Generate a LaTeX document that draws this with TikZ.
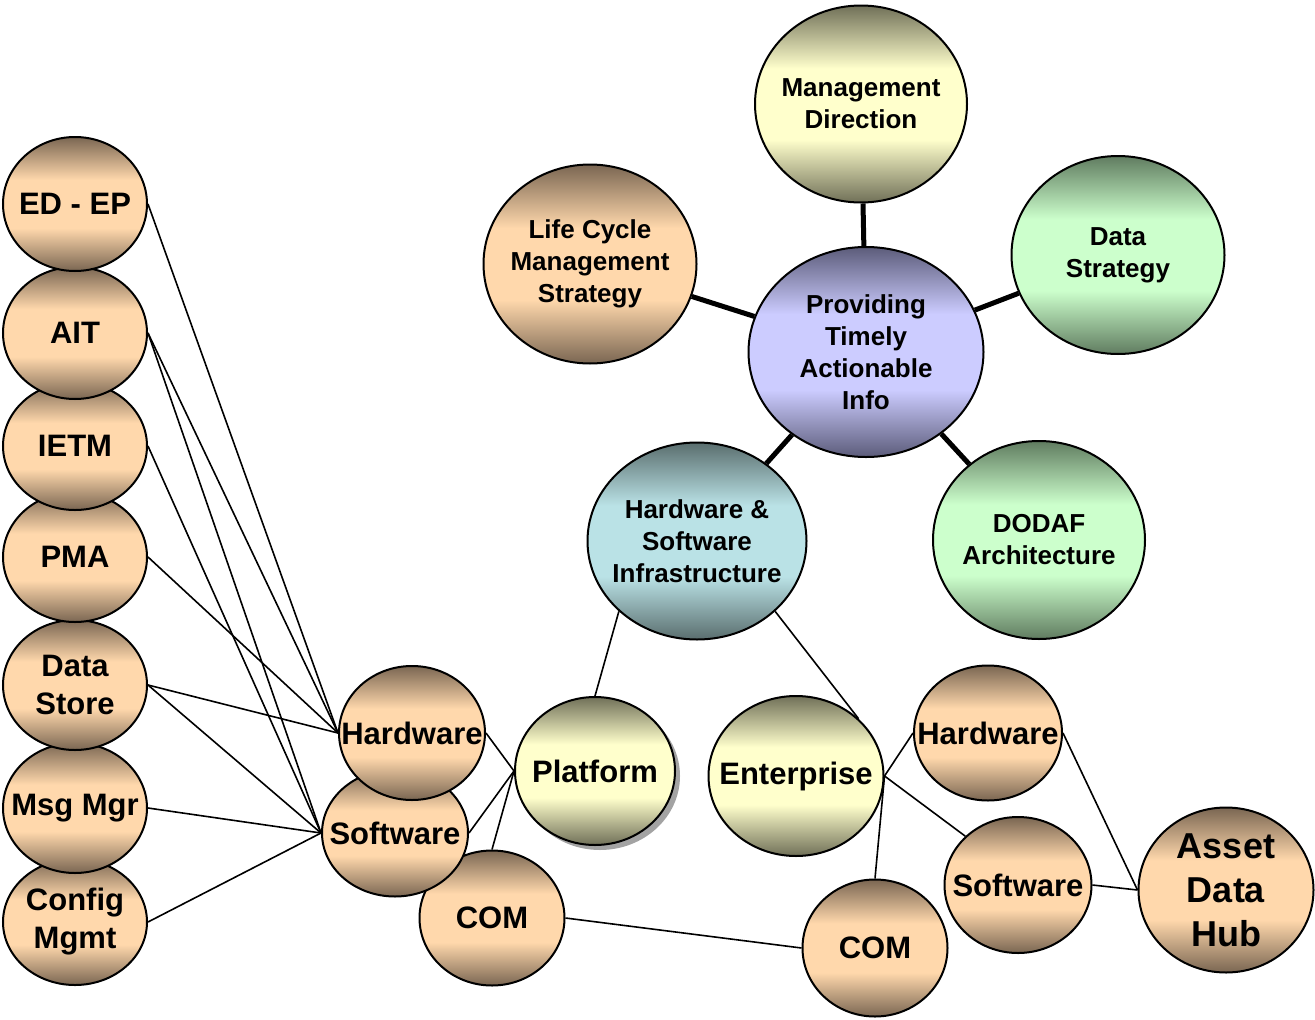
\documentclass[tikz,border=0pt]{standalone}
\usepackage{fontspec}
\setmainfont{Liberation Sans}
\usetikzlibrary{shapes.geometric,backgrounds,shadows}

\definecolor{tanD}{RGB}{122,102,82}
\definecolor{tanL}{RGB}{255,216,172}
\definecolor{yelD}{RGB}{112,112,88}
\definecolor{yelL}{RGB}{255,255,204}
\definecolor{bluD}{RGB}{92,92,122}
\definecolor{bluL}{RGB}{204,204,255}
\definecolor{tealD}{RGB}{90,110,110}
\definecolor{tealL}{RGB}{186,226,230}
\definecolor{grnD}{RGB}{96,124,96}
\definecolor{grnL}{RGB}{204,255,204}

\newcommand{\bubshading}[3]{%
	\pgfdeclareverticalshading{#1}{100bp}{color(0bp)=(#2); color(25bp)=(#2);
		color(41bp)=(#3); color(59bp)=(#3); color(75bp)=(#2); color(100bp)=(#2)}}
\bubshading{tanshade}{tanD}{tanL}
\bubshading{yelshade}{yelD}{yelL}
\bubshading{blushade}{bluD}{bluL}
\bubshading{tealshade}{tealD}{tealL}
\bubshading{grnshade}{grnD}{grnL}

\tikzset{
	bub/.style 2 args={ellipse, draw=black, line width=2pt, inner sep=0pt,
		minimum width=#1, minimum height=#2},
	tanb/.style={shade, shading=tanshade},
	yelb/.style={shade, shading=yelshade},
	blub/.style={shade, shading=blushade},
	tealb/.style={shade, shading=tealshade},
	grnb/.style={shade, shading=grnshade},
	lbl/.style={font=\bfseries\fontsize{31}{38}\selectfont, align=center, inner sep=0pt},
	lblS/.style={font=\bfseries\fontsize{26}{32}\selectfont, align=center, inner sep=0pt},
	lblL/.style={font=\bfseries\fontsize{36}{44}\selectfont, align=center, inner sep=0pt},
	hublink/.style={line width=5pt},
	link/.style={line width=1.6pt},
}

\begin{document}
\begin{tikzpicture}[x=1pt,y=-1pt]
	\useasboundingbox (0,0) rectangle (1315,1020);
	% left column
	\node[bub={144}{126},tanb,label={[lbl]center:{Config\\Mgmt}}] (config) at (75,922) {};
	\node[bub={144}{130},tanb,label={[lbl]center:Msg Mgr}] (msgmgr) at (75,808) {};
	\node[bub={144}{130},tanb,label={[lbl]center:{Data\\Store}}] (dstore) at (75,685) {};
	\node[bub={144}{130},tanb,label={[lbl]center:PMA}] (pma) at (75,557) {};
	\node[bub={144}{128},tanb,label={[lbl]center:IETM}] (ietm) at (75,446) {};
	\node[bub={144}{132},tanb,label={[lbl]center:AIT}] (ait) at (75,333) {};
	\node[bub={144}{134},tanb,label={[lbl]center:ED - EP}] (edep) at (75,204) {};
	%
	\node[bub={145}{135},tanb,label={[lbl]center:COM}] (comL) at (492,918) {};
	\node[bub={146}{127},tanb,label={[lbl]center:Software}] (swL) at (395,833) {};
	\node[bub={146}{134},tanb,label={[lbl]center:Hardware}] (hwL) at (412,733) {};
	\node[bub={160}{148},yelb,drop shadow={shadow xshift=5pt,shadow yshift=-5pt,fill=black!45,opacity=0.8},
		label={[lbl]center:Platform}] (platform) at (595,771) {};
	%
	\node[bub={175}{160},yelb,label={[lbl]center:Enterprise}] (enterprise) at (796,776) {};
	\node[bub={148}{135},tanb,label={[lbl]center:Hardware}] (hwR) at (988,733) {};
	\node[bub={147}{136},tanb,label={[lbl]center:Software}] (swR) at (1018,885) {};
	\node[bub={145}{137},tanb,label={[lbl]center:COM}] (comR) at (875,948) {};
	\node[bub={175}{165},tanb,label={[lblL]center:{Asset\\Data\\Hub}}] (hub) at (1226,890) {};
	% top cluster
	\node[bub={235}{210},blub,label={[lblS]center:{Providing\\Timely\\Actionable\\Info}}] (info) at (866,352) {};
	\node[bub={212}{197},yelb,label={[lblS]center:{Management\\Direction}}] (mgmt) at (861,104) {};
	\node[bub={213}{199},tanb,label={[lblS]center:{Life Cycle\\Management\\Strategy}}] (lifecyc) at (590,264) {};
	\node[bub={213}{198},grnb,label={[lblS]center:{Data\\Strategy}}] (datastrat) at (1118,255) {};
	\node[bub={212}{198},grnb,label={[lblS]center:{DODAF\\Architecture}}] (dodaf) at (1039,540) {};
	\node[bub={219}{197},tealb,label={[lblS]center:{Hardware \&\\Software\\Infrastructure}}] (infra) at (697,541) {};
	%
	\begin{scope}[on background layer]
		\foreach \sat in {mgmt,lifecyc,datastrat,dodaf,infra}
			\draw[hublink] (info) -- (\sat);
		\draw[link] (edep.east) -- (hwL.west);
		\draw[link] (ait.east) -- (hwL.west);
		\draw[link] (ait.east) -- (swL.west);
		\draw[link] (ietm.east) -- (swL.west);
		\draw[link] (pma.east) -- (hwL.west);
		\draw[link] (dstore.east) -- (hwL.west);
		\draw[link] (dstore.east) -- (swL.west);
		\draw[link] (msgmgr.east) -- (swL.west);
		\draw[link] (config.east) -- (swL.west);
		\draw[link] (hwL.east) -- (platform.west);
		\draw[link] (swL.east) -- (platform.west);
		\draw[link] (comL.north) -- (platform.west);
		\draw[link] (infra.south west) -- (platform.north);
		\draw[link] (infra.south east) -- (enterprise.north east);
		\draw[link] (enterprise.east) -- (hwR.west);
		\draw[link] (enterprise.east) -- (swR.north west);
		\draw[link] (enterprise.east) -- (comR.north);
		\draw[link] (comL.east) -- (comR.west);
		\draw[link] (hwR.east) -- (hub.west);
		\draw[link] (swR.east) -- (hub.west);
	\end{scope}
\end{tikzpicture}
\end{document}
